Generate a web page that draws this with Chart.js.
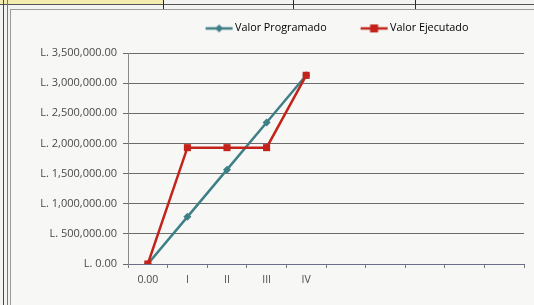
<!DOCTYPE html>
<html><head><meta charset="utf-8">
<script src="https://cdn.jsdelivr.net/npm/chart.js@4/dist/chart.umd.min.js"></script>
<style>
html,body{margin:0;padding:0;background:#f3f3f1;width:534px;height:305px;overflow:hidden;position:relative}
.f{position:absolute;background:#2a2a2a}
#wrap{position:absolute;left:0;top:0;width:534px;height:305px}
#box{position:absolute;left:10px;top:9px;width:530px;height:300px;border-left:1px solid #9a9a9a;border-top:1px solid #9a9a9a;background:#f7f7f6}
</style></head><body>
<div style="position:absolute;left:0;top:0;width:163px;height:4px;background:#f2ecb0"></div>
<div class="f" style="left:0;top:4px;width:534px;height:1px;background:#555"></div>
<div class="f" style="left:163px;top:0;width:1px;height:9px"></div>
<div class="f" style="left:293px;top:0;width:1px;height:9px"></div>
<div class="f" style="left:415px;top:0;width:1px;height:9px"></div>
<div class="f" style="left:3px;top:0;width:1px;height:305px;background:#444"></div>
<div class="f" style="left:7px;top:0;width:1px;height:305px;background:#777"></div>
<div id="box"></div>
<div id="wrap"><canvas id="c" width="534" height="305"></canvas></div>
<script>
const categories = ['0.00','I','II','III','IV','','','','',''];
const valorProgramado = [0, 782500, 1565000, 2347500, 3130000];
const valorEjecutado = [0, 1930000, 1930000, 1930000, 3130000];
const yTicks = [0,500000,1000000,1500000,2000000,2500000,3000000,3500000];

const tealC = '#3f7f86', redC = '#c4231b';
function legendImg(color, style){
  const cv = document.createElement('canvas'); cv.width = 36; cv.height = 10;
  const g = cv.getContext('2d');
  g.strokeStyle = color; g.lineWidth = 2.5;
  g.beginPath(); g.moveTo(6,5); g.lineTo(33,5); g.stroke();
  g.fillStyle = color;
  const cx = 19.5;
  if (style === 'rect'){ g.fillRect(cx-4,1,8,8); }
  else { g.beginPath(); g.moveTo(cx,1); g.lineTo(cx+4,5); g.lineTo(cx,9); g.lineTo(cx-4,5); g.closePath(); g.fill(); }
  return cv;
}
const imgs = [legendImg(tealC,'rectRot'), legendImg(redC,'rect')];
function fmt(v){ return 'L. ' + v.toLocaleString('en-US',{minimumFractionDigits:2,maximumFractionDigits:2}); }

const legendPad = {id:'legendPad',
  beforeInit(chart){
    const orig = chart.legend.fit;
    chart.legend.fit = function(){ orig.bind(chart.legend)(); this.height = 53; };
  },
  beforeDraw(chart){
    const lg = chart.legend;
    if (!lg._shifted){ lg.left += 70; lg.right += 70; lg.top -= 11; lg._shifted = true; }
  }
};

new Chart(document.getElementById('c'), {
  type:'line',
  data:{labels:categories, datasets:[
    {label:'Valor Programado', data:valorProgramado, borderColor:tealC, backgroundColor:tealC, borderWidth:2.5, pointStyle:'rectRot', pointRadius:4, pointBorderWidth:0, tension:0, order:1},
    {label:'Valor Ejecutado', data:valorEjecutado, borderColor:redC, backgroundColor:redC, borderWidth:2.5, pointStyle:'rect', pointRadius:5, pointBorderWidth:0, tension:0, order:0}
  ]},
  options:{
    responsive:false, animation:false, devicePixelRatio:1,
    layout:{padding:{left:10,right:10,top:0,bottom:0}},
    plugins:{
      tooltip:{enabled:false},
      legend:{position:'top', align:'center',
        labels:{usePointStyle:true, pointStyleWidth:24, boxHeight:10, color:'#3a3a3a', font:{family:'Open Sans', size:10.8}, padding:34,
          generateLabels(chart){ return [0,1].map(i=>{const d=chart.data.datasets[i]; return {text:d.label, pointStyle:imgs[i], fillStyle:d.borderColor, strokeStyle:d.borderColor, lineWidth:0, datasetIndex:i, hidden:false};}); }
        }
      }
    },
    scales:{
      x:{type:'category', offset:true,
        grid:{offset:true, drawOnChartArea:false, color:'#7a7a7a', tickLength:4},
        border:{color:'#6a6e8a', width:1},
        ticks:{color:'#4a4a4a', font:{family:'Open Sans', size:10.5}, padding:6, autoSkip:false, maxRotation:0},
        afterFit(s){ s.height = 41; }
      },
      y:{min:0, max:3500000,
        afterBuildTicks(s){ s.ticks = yTicks.map(v=>({value:v})); },
        grid:{color:'#6b6b6b', lineWidth:1, tickLength:5},
        border:{color:'#8a8a8a'},
        ticks:{color:'#4a4a4a', font:{family:'Open Sans', size:11}, padding:6, callback:(v)=>fmt(v)},
        afterFit(s){ s.width = 118; }
      }
    }
  },
  plugins:[legendPad]
});
</script>
</body></html>
